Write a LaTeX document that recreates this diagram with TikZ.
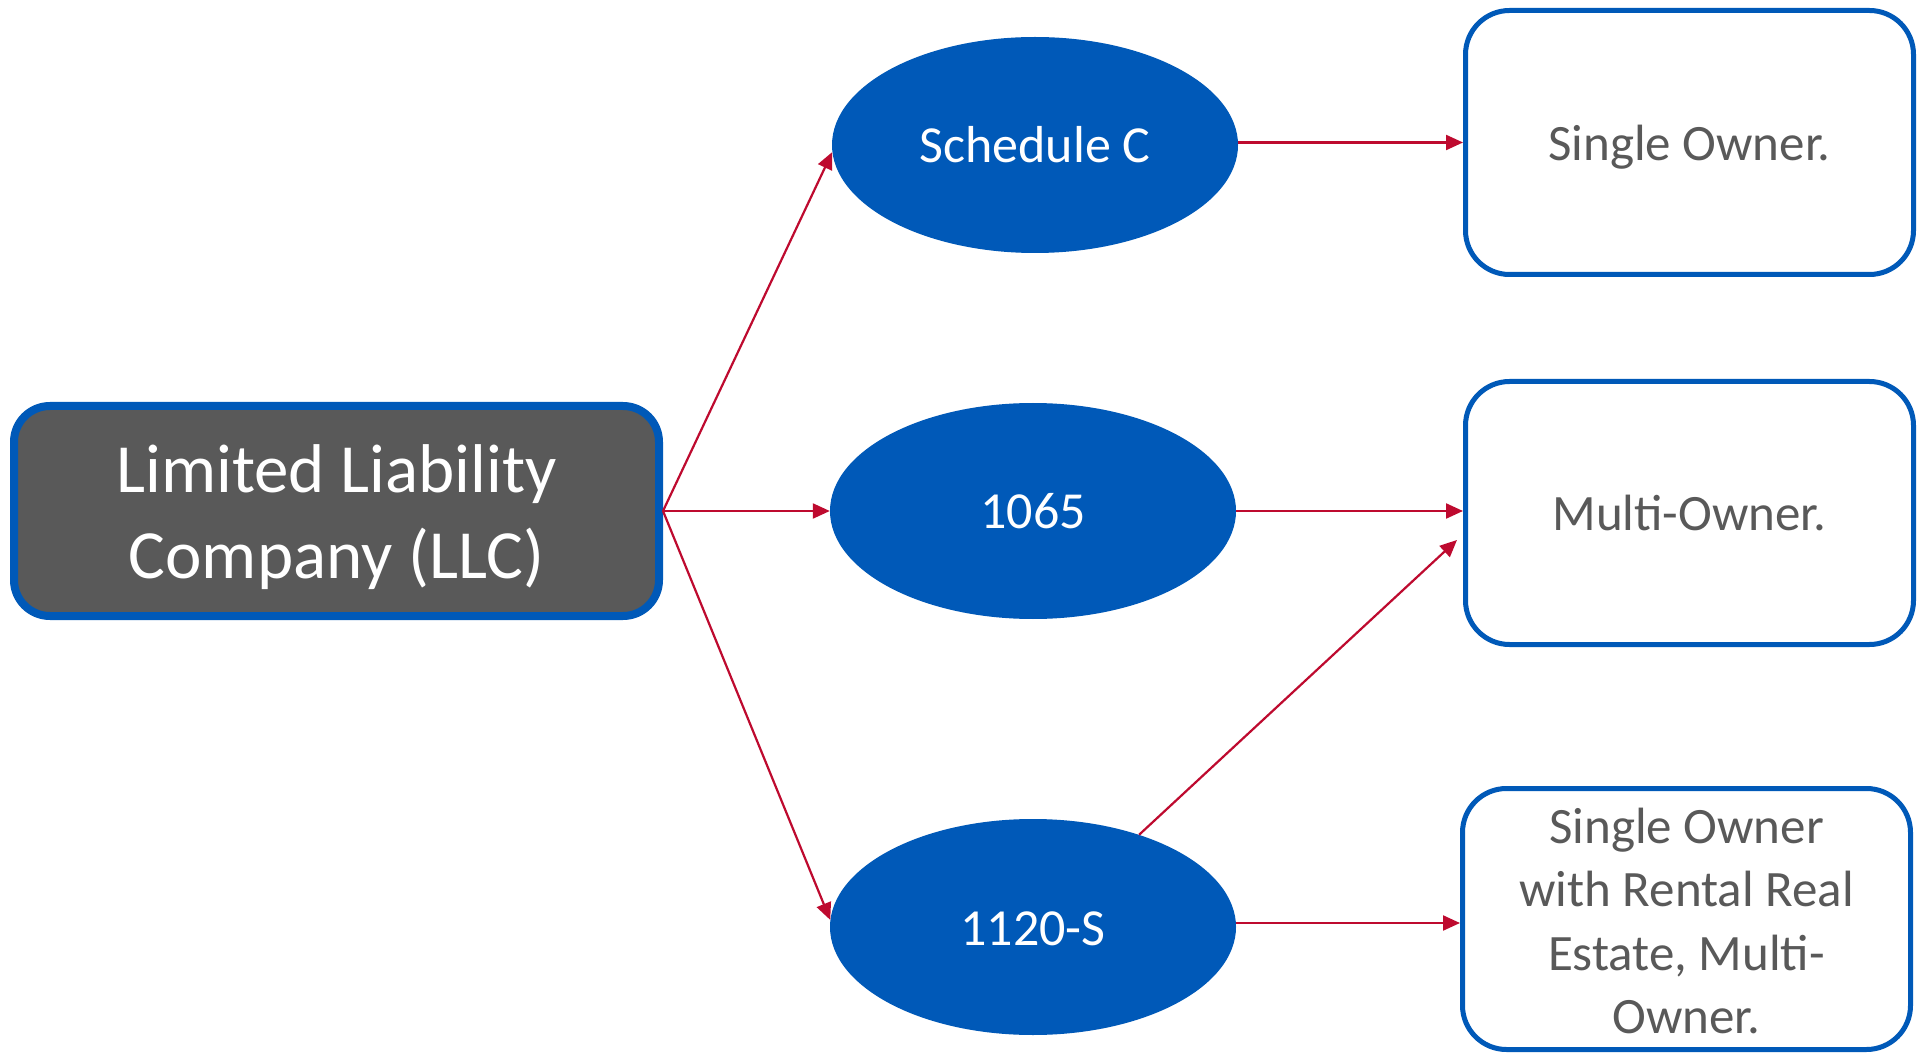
\documentclass[tikz,border=0pt]{standalone}
\usepackage{fontspec}
\setmainfont{Carlito}
\usetikzlibrary{shapes.geometric,arrows.meta,calc}
\definecolor{llcblue}{HTML}{0059B8}
\definecolor{llcgray}{HTML}{595959}
\definecolor{arrowred}{HTML}{BE0A2F}
\newcommand{\dropby}[2]{\raisebox{-#1}[\height][\depth]{\begin{tabular}{@{}c@{}}#2\end{tabular}}}
\begin{document}
\begin{tikzpicture}[x=1pt,y=-1pt,
  mainbox/.style={rectangle,rounded corners=36pt,draw=llcblue,line width=8pt,fill=llcgray,
    minimum width=645pt,minimum height=210pt,inner sep=0pt,text=white,align=center,
    font=\fontsize{69}{86}\selectfont},
  formell/.style={ellipse,fill=llcblue,draw=none,minimum width=406pt,minimum height=216pt,
    inner sep=0pt,text=white,font=\fontsize{52}{62}\selectfont},
  ownerbox/.style={rectangle,rounded corners=44pt,draw=llcblue,line width=5pt,fill=white,
    minimum width=448pt,inner sep=0pt,text=llcgray,align=center,
    font=\fontsize{51}{63.5}\selectfont},
  link/.style={draw=arrowred,line width=2.2pt,-{Triangle[length=17pt,width=15pt]}}]
\useasboundingbox (0,0) rectangle (1923,1056);
\fill[white] (0,0) rectangle (1923,1056);

\node[mainbox] (llc) at (336.5,511) {\dropby{7pt}{Limited Liability\\Company (LLC)}};

\node[formell] (schc) at (1035,145) {\dropby{5pt}{Schedule C}};
\node[formell] (f1065) at (1033,511) {\dropby{5pt}{1065}};
\node[formell] (f1120) at (1033,927) {\dropby{6pt}{1120-S}};

\node[ownerbox,minimum height=264pt] (single) at (1689.5,142.5) {\dropby{5pt}{Single Owner.}};
\node[ownerbox,minimum height=263pt] (multi) at (1689.5,513) {\dropby{5pt}{Multi-Owner.}};
\node[ownerbox,minimum height=261pt] (rental) at (1686.5,919)
  {\dropby{7pt}{Single Owner\\with Rental Real\\Estate, Multi-\\Owner.}};

\coordinate (multiin) at ($(multi.west)+(-6,27)$);
\coordinate (rentalin) at ($(rental.west)+(0,4)$);

\draw[link] (llc.east) -- (schc.182);
\draw[link] (llc.east) -- (f1065.west);
\draw[link] (llc.east) -- (f1120.178);
\draw[link] (schc.east |- single.west) -- (single.west);
\draw[link] (f1065.east) -- (f1065.east -| multi.west);
\draw[link] (f1120.41) -- (multiin);
\draw[link] (f1120.east |- rentalin) -- (rentalin);
\end{tikzpicture}
\end{document}
